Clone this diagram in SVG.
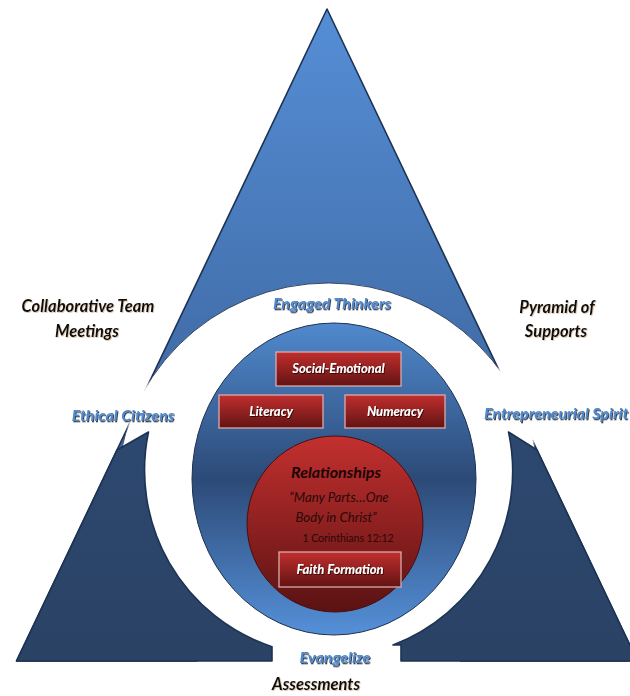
<svg xmlns="http://www.w3.org/2000/svg" width="630" height="696" viewBox="0 0 630 696">
<defs>
<linearGradient id="gTri" gradientUnits="userSpaceOnUse" x1="0" y1="9" x2="0" y2="661">
<stop offset="0" stop-color="#558ed6"/>
<stop offset="0.65" stop-color="#3e67a0"/>
<stop offset="1" stop-color="#2e4c78"/>
</linearGradient>
<linearGradient id="gDark" gradientUnits="userSpaceOnUse" x1="0" y1="430" x2="0" y2="661">
<stop offset="0" stop-color="#2d4870"/>
<stop offset="1" stop-color="#2a4264"/>
</linearGradient>
<linearGradient id="gBlue" gradientUnits="userSpaceOnUse" x1="0" y1="323" x2="0" y2="635">
<stop offset="0" stop-color="#5089cd"/>
<stop offset="0.5" stop-color="#2c4a77"/>
<stop offset="1" stop-color="#5590d8"/>
</linearGradient>
<linearGradient id="gRed" x1="0" y1="0" x2="0" y2="1">
<stop offset="0" stop-color="#c3302f"/>
<stop offset="1" stop-color="#5a1212"/>
</linearGradient>
<linearGradient id="gBox" x1="0" y1="0" x2="0" y2="1">
<stop offset="0" stop-color="#c12f2e"/>
<stop offset="1" stop-color="#621313"/>
</linearGradient>
<clipPath id="triClip"><path d="M327,9 L637.5,661 L16.5,661 Z"/></clipPath>
<filter id="shBlue" x="-10%" y="-30%" width="120%" height="160%">
<feDropShadow dx="1" dy="1.3" stdDeviation="0.7" flood-color="#1a1a1a" flood-opacity="0.85"/>
</filter>
<filter id="shBlack" x="-10%" y="-30%" width="120%" height="160%">
<feDropShadow dx="0.8" dy="0.8" stdDeviation="0.7" flood-color="#a07a50" flood-opacity="0.5"/>
</filter>
<filter id="shWhite" x="-10%" y="-30%" width="120%" height="160%">
<feDropShadow dx="0.8" dy="1" stdDeviation="0.6" flood-color="#2a0000" flood-opacity="0.9"/>
</filter>
</defs>
<style>
.lblBlue{font-family:Lato,"Liberation Sans",sans-serif;font-weight:bold;font-style:italic;font-size:16px;fill:#5089d0;text-anchor:middle;filter:url(#shBlue)}
.lblBlack{font-family:Lato,"Liberation Sans",sans-serif;font-weight:bold;font-style:italic;font-size:16.5px;fill:#0d0d0d;text-anchor:middle;filter:url(#shBlack)}
.boxTxt{font-family:Lato,"Liberation Sans",sans-serif;font-weight:bold;font-style:italic;font-size:13px;fill:#fff;text-anchor:middle;filter:url(#shWhite)}
.box{fill:url(#gBox);stroke:#dcaaaa;stroke-width:1.3}
.relTitle{font-family:Lato,"Liberation Sans",sans-serif;font-weight:bold;font-style:italic;font-size:16px;fill:#1a0505;text-anchor:middle}
.relQuote{font-family:Lato,"Liberation Sans",sans-serif;font-style:italic;font-size:13.2px;fill:#2a0808;text-anchor:middle}
.relRef{font-family:Lato,"Liberation Sans",sans-serif;font-size:10.5px;fill:#2a0808;text-anchor:middle}
.edge{stroke:#1c3354;stroke-width:1.6;stroke-linejoin:round}
</style>

<g id="pyramid">
<path d="M327,9 L637.5,661 L16.5,661 Z" fill="url(#gTri)" class="edge"/>
<circle cx="328.5" cy="495" r="212" fill="#ffffff"/>
<circle cx="328.5" cy="495" r="212" fill="none" stroke="#2a3a52" stroke-width="0.9" clip-path="url(#triClip)"/>
<path d="M117,450 L148.5,432 A186,186 0 0 0 272,646.7 L272,661 L16.5,661 Z" fill="url(#gDark)" class="edge"/>
<path d="M537,450 L508.5,432 A186,186 0 0 1 393,645 L401,645 L401,661 L637.5,661 Z" fill="url(#gDark)" class="edge"/>
</g>

<g id="core">
<ellipse cx="334" cy="479" rx="142" ry="156" fill="url(#gBlue)" stroke="#1e3150" stroke-width="1"/>
<circle cx="335" cy="524" r="88" fill="url(#gRed)" stroke="#4a0e0e" stroke-width="1"/>
</g>

<g id="social-emotional">
<rect class="box" x="276" y="352" width="125" height="34"/>
<text class="boxTxt" x="338.5" y="373">Social-Emotional</text>
</g>
<g id="literacy">
<rect class="box" x="219" y="395" width="104" height="33"/>
<text class="boxTxt" x="271" y="416">Literacy</text>
</g>
<g id="numeracy">
<rect class="box" x="345" y="395" width="100" height="33"/>
<text class="boxTxt" x="395" y="416">Numeracy</text>
</g>
<g id="relationships">
<text class="relTitle" x="336" y="478">Relationships</text>
<text class="relQuote" x="339" y="502">“Many Parts…One</text>
<text class="relQuote" x="336" y="522">Body in Christ”</text>
<text class="relRef" x="348" y="542">1 Corinthians 12:12</text>
</g>
<g id="faith-formation">
<rect class="box" x="279" y="552" width="122" height="35"/>
<text class="boxTxt" x="340" y="574">Faith Formation</text>
</g>

<g id="outer-labels">
<text class="lblBlue" x="332" y="309">Engaged Thinkers</text>
<text class="lblBlue" x="123" y="421">Ethical Citizens</text>
<text class="lblBlue" x="484" y="419" style="text-anchor:start">Entrepreneurial Spirit</text>
<text class="lblBlue" x="335" y="663">Evangelize</text>
<text class="lblBlack" x="88" y="312">Collaborative Team</text>
<text class="lblBlack" x="87" y="337">Meetings</text>
<text class="lblBlack" x="557" y="313">Pyramid of</text>
<text class="lblBlack" x="556" y="337">Supports</text>
<text class="lblBlack" x="316" y="690">Assessments</text>
</g>
<g id="connectors"/>
</svg>
